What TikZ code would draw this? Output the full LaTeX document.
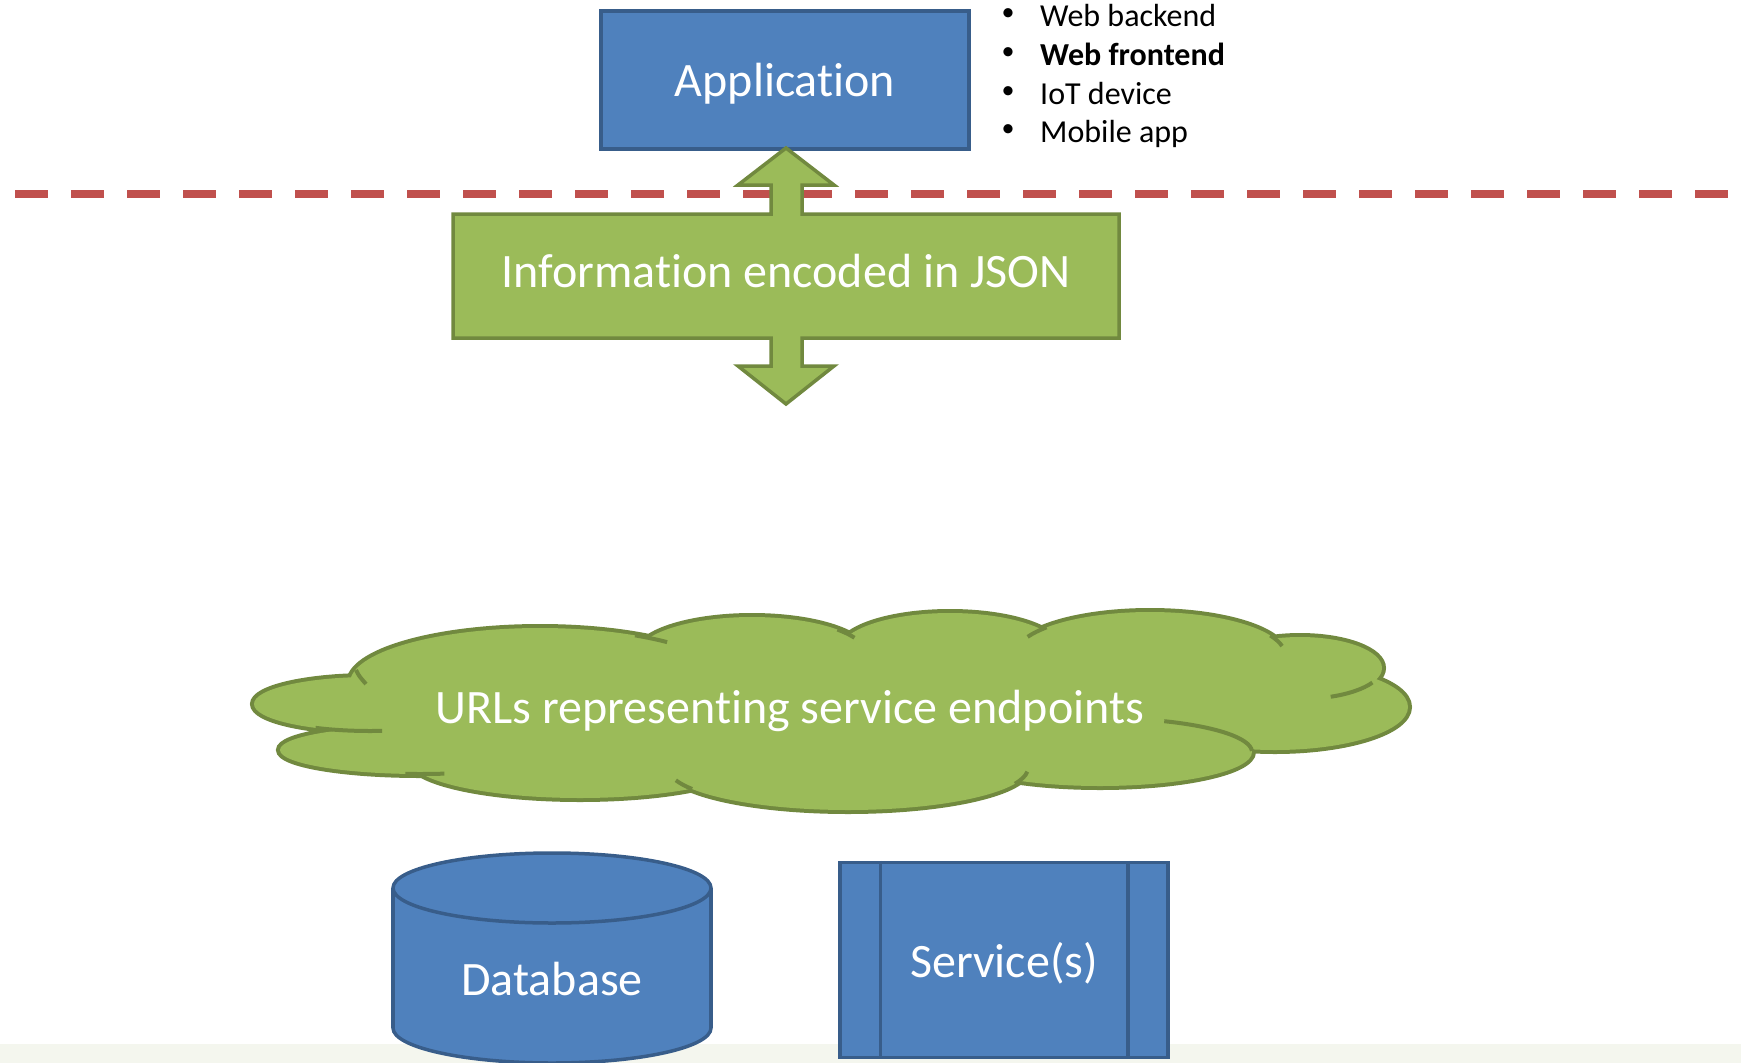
\documentclass[tikz,border=0pt]{standalone}
\usepackage{fontspec}
\setmainfont{Carlito}[Ligatures=NoCommon]
\definecolor{boxblue}{HTML}{4F81BD}
\definecolor{lineblue}{HTML}{385D8A}
\definecolor{boxgreen}{HTML}{9BBB59}
\definecolor{linegreen}{HTML}{71893F}
\definecolor{cutred}{HTML}{C0504D}
\definecolor{bandgray}{HTML}{F4F6EE}
% puffs of the cloud, one ellipse each
\newcommand\cloudpuffs{
  (370,704) ellipse[x radius=116, y radius=27]
  (420,750) ellipse[x radius=140, y radius=24]
  (540,683) ellipse[x radius=190, y radius=55]
  (580,760) ellipse[x radius=170, y radius=38]
  (752,655) ellipse[x radius=115, y radius=38]
  (950,650) ellipse[x radius=110, y radius=37]
  (1150,655) ellipse[x radius=135, y radius=43]
  (1300,668) ellipse[x radius=82, y radius=31]
  (1275,707) ellipse[x radius=133, y radius=43]
  (1100,752) ellipse[x radius=152, y radius=34]
  (848,768) ellipse[x radius=180, y radius=42]
}
\tikzset{
  bluebox/.style={draw=lineblue, fill=boxblue, line width=3.5pt},
  greenbox/.style={draw=linegreen, fill=boxgreen, line width=3.5pt, line join=miter},
  puffline/.style={draw=linegreen, line width=4pt, line cap=butt},
  bigtext/.style={text=white, text depth=0pt, font=\fontsize{48}{57}\selectfont},
  bullettext/.style={anchor=mid west, font=\fontsize{32}{38}\selectfont, inner sep=0pt},
  bulletdot/.style={anchor=center, font=\fontsize{26}{30}\selectfont, inner sep=0pt}
}
\begin{document}
\begin{tikzpicture}[x=1pt, y=-1pt]
    \useasboundingbox (0,0) rectangle (1741,1063);
    \fill[bandgray] (0,1044) rectangle (1741,1063);
    % client side
    \node[bluebox, bigtext, minimum width=368pt, minimum height=138pt] (app) at (785,80) {Application};
    \node[bulletdot] (dot1) at (1008,15) {•};
    \node[bulletdot] (dot2) at (1008,54) {•};
    \node[bulletdot] (dot3) at (1008,93) {•};
    \node[bulletdot] (dot4) at (1008,131) {•};
    \node[bullettext] (web1) at (1040,24) {Web backend};
    \node[bullettext] (web2) at (1040,63) {\bfseries Web frontend};
    \node[bullettext] (iot) at (1040,102) {IoT device};
    \node[bullettext] (mob) at (1040,140) {Mobile app};
    % boundary
    \draw[cutred, line width=8pt, dash pattern=on 33pt off 23pt] (15,194) -- (1735,194);
    % json callout with double arrow
    \draw[greenbox] (453,214) -- (771,214) -- (771,185) -- (738,185) -- (786,148) -- (834,185) -- (802,185) -- (802,214)
      -- (1119,214) -- (1119,338) -- (802,338) -- (802,366) -- (834,366) -- (786,404) -- (738,366) -- (771,366)
      -- (771,338) -- (453,338) -- cycle;
    \node[bigtext] (json) at (786,271) {Information encoded in JSON};
    % cloud: outline of all puffs, then the inside filled over it
    \draw[draw=linegreen, line width=8pt] \cloudpuffs;
    \fill[boxgreen] \cloudpuffs (830,710) ellipse[x radius=420, y radius=70];
    \draw[puffline] (356,670) .. controls (359,676) .. (366,684);
    \draw[puffline] ([shift={(118:116 and 27)}]370,704) arc[start angle=118, end angle=84, x radius=116, y radius=27];
    \draw[puffline] ([shift={(96:140 and 24)}]420,750) arc[start angle=96, end angle=80, x radius=140, y radius=24];
    \draw[puffline] ([shift={(300:190 and 55)}]540,683) arc[start angle=300, end angle=312, x radius=190, y radius=55];
    \draw[puffline] ([shift={(318:115 and 38)}]752,655) arc[start angle=318, end angle=333, x radius=115, y radius=38];
    \draw[puffline] ([shift={(205:135 and 43)}]1150,655) arc[start angle=205, end angle=220, x radius=135, y radius=43];
    \draw[puffline] ([shift={(333:135 and 43)}]1150,655) arc[start angle=333, end angle=348, x radius=135, y radius=43];
    \draw[puffline] ([shift={(68:82 and 31)}]1300,668) arc[start angle=68, end angle=28, x radius=82, y radius=31];
    \draw[puffline] ([shift={(295:152 and 34)}]1100,752) arc[start angle=295, end angle=358, x radius=152, y radius=34];
    \draw[puffline] ([shift={(22:180 and 42)}]848,768) arc[start angle=22, end angle=5, x radius=180, y radius=42];
    \draw[puffline] ([shift={(163:180 and 42)}]848,768) arc[start angle=163, end angle=150, x radius=180, y radius=42];
    \node[bigtext] (urls) at (790,707) {URLs representing service endpoints};
    % service side
    \draw[bluebox] (552,1028) ellipse[x radius=159, y radius=35];
    \fill[boxblue] (393,888) rectangle (711,1028);
    \draw[lineblue, line width=3.5pt] (393,888) -- (393,1028) (711,888) -- (711,1028);
    \draw[bluebox] (552,888) ellipse[x radius=159, y radius=35];
    \node[bigtext] (db) at (552,979) {Database};
    \node[bluebox, minimum width=328pt, minimum height=195pt] (svc) at (1004,960) {};
    \draw[lineblue, line width=3.5pt] ([xshift=42pt]svc.north west) -- ([xshift=42pt]svc.south west)
      ([xshift=-42pt]svc.north east) -- ([xshift=-42pt]svc.south east);
    \node[bigtext] (svcl) at (1004,960) {Service(s)};
\end{tikzpicture}
\end{document}
